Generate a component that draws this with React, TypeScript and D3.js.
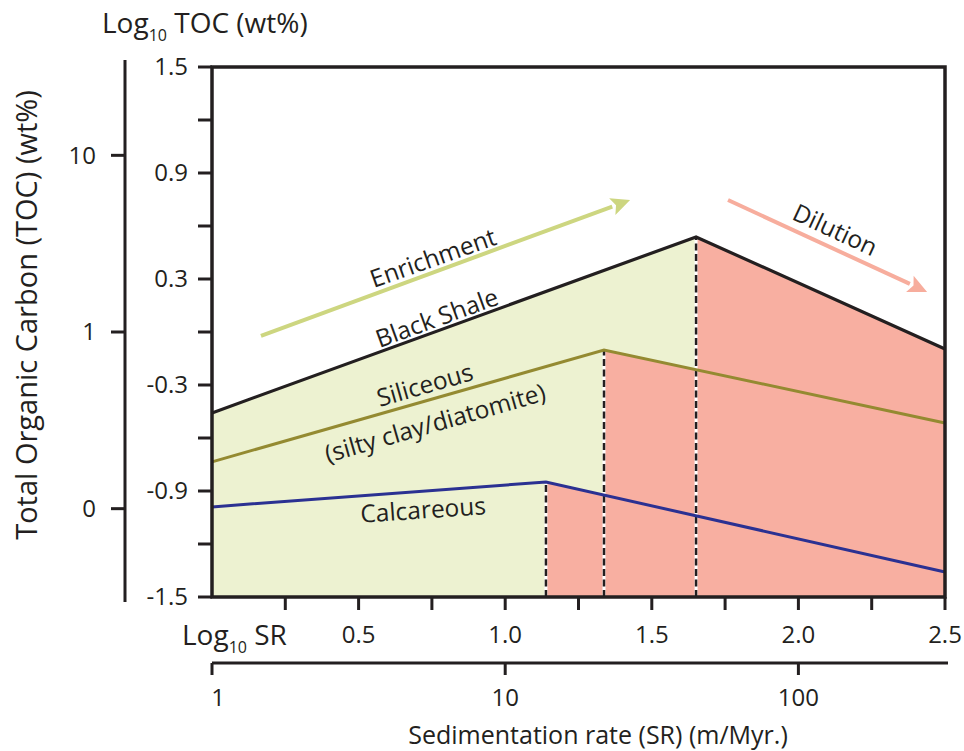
import React, { useEffect, useRef } from "react";
import * as d3 from "d3";

// log10 SR positions and log10 TOC values of each facies line: start, peak, end
const blackShaleSR = [0, 1.651, 2.5];
const blackShaleTOC = [-0.458, 0.538, -0.096];
const siliceousSR = [0, 1.337, 2.5];
const siliceousTOC = [-0.735, -0.102, -0.515];
const calcareousSR = [0, 1.139, 2.5];
const calcareousTOC = [-0.99, -0.849, -1.358];

const leftTicks = [1.5, 1.2, 0.9, 0.6, 0.3, 0, -0.3, -0.6, -0.9, -1.2, -1.5];
const leftLabels = ["1.5", "0.9", "0.3", "-0.3", "-0.9", "-1.5"];
const outerTicks = [1, 0, -1];
const outerLabels = ["10", "1", "0"];
const srTicks = [0.25, 0.5, 0.75, 1.0, 1.25, 1.5, 1.75, 2.0, 2.25, 2.5];
const srLabels = ["0.5", "1.0", "1.5", "2.0", "2.5"];
const rateTicks = [0, 1, 2];
const rateLabels = ["1", "10", "100"];

// arrows: [logSR, logTOC] start and end
const enrichArrow = [[0.167, -0.022], [1.426, 0.747]];
const diluteArrow = [[1.76, 0.747], [2.439, 0.227]];

const annotations = [
  { text: "Enrichment", sr: 0.754, toc: 0.419, angle: -19.5 },
  { text: "Black Shale", sr: 0.767, toc: 0.08, angle: -20 },
  { text: "Siliceous", sr: 0.726, toc: -0.3, angle: -16 },
  { text: "(silty clay/diatomite)", sr: 0.761, toc: -0.515, angle: -16 },
  { text: "Calcareous", sr: 0.72, toc: -1.007, angle: -4 },
  { text: "Dilution", sr: 2.125, toc: 0.578, angle: 25 },
];

const FONT = "'Open Sans', sans-serif";
const INK = "#231f20";

const App = () => {
  const svgRef = useRef<SVGSVGElement>(null);

  useEffect(() => {
    const svg = d3.select(svgRef.current);
    svg.selectAll("*").remove();

    const x = d3.scaleLinear().domain([0, 2.5]).range([212, 945]);
    const y = d3.scaleLinear().domain([-1.5, 1.5]).range([597, 67]);
    const bottom = y(-1.5);

    const toPts = (sr: number[], toc: number[]) => sr.map((s, i) => [s, toc[i]] as [number, number]);
    const lines = [
      { pts: toPts(blackShaleSR, blackShaleTOC), color: INK },
      { pts: toPts(siliceousSR, siliceousTOC), color: "#948a31" },
      { pts: toPts(calcareousSR, calcareousTOC), color: "#2b3192" },
    ];

    const area = d3
      .area<[number, number]>()
      .x((d) => x(d[0]))
      .y0(bottom)
      .y1((d) => y(d[1]));
    const line = d3
      .line<[number, number]>()
      .x((d) => x(d[0]))
      .y((d) => y(d[1]));

    // green enrichment zone under the black shale line
    svg.append("path").attr("d", area(lines[0].pts)).attr("fill", "#edf2d1");

    // salmon dilution zone right of each peak
    lines.forEach((l) => {
      svg.append("path").attr("d", area(l.pts.slice(1))).attr("fill", "#f8afa1");
    });

    // dashed peak markers
    lines.forEach((l) => {
      const p = l.pts[1];
      svg.append("line")
        .attr("x1", x(p[0])).attr("x2", x(p[0]))
        .attr("y1", bottom).attr("y2", y(p[1]))
        .attr("stroke", "#fff").attr("stroke-width", 3);
      svg.append("line")
        .attr("x1", x(p[0])).attr("x2", x(p[0]))
        .attr("y1", bottom).attr("y2", y(p[1]))
        .attr("stroke", INK).attr("stroke-width", 2.5)
        .attr("stroke-dasharray", "7,3.5");
    });

    // facies lines
    lines.forEach((l) => {
      svg.append("path").attr("d", line(l.pts)).attr("fill", "none")
        .attr("stroke", l.color).attr("stroke-width", l.color === INK ? 3.2 : 3);
    });

    // arrows
    const drawArrow = (a: number[][], color: string) => {
      const x1 = x(a[0][0]), y1 = y(a[0][1]), x2 = x(a[1][0]), y2 = y(a[1][1]);
      const ang = Math.atan2(y2 - y1, x2 - x1);
      const len = 19, half = 9;
      const bx = x2 - len * Math.cos(ang), by = y2 - len * Math.sin(ang);
      svg.append("line").attr("x1", x1).attr("y1", y1).attr("x2", bx).attr("y2", by)
        .attr("stroke", color).attr("stroke-width", 4);
      const px = -Math.sin(ang) * half, py = Math.cos(ang) * half;
      svg.append("path")
        .attr("d", `M${x2},${y2}L${bx + px},${by + py}L${bx + 4 * Math.cos(ang)},${by + 4 * Math.sin(ang)}L${bx - px},${by - py}Z`)
        .attr("fill", color);
    };
    drawArrow(enrichArrow, "#cdd680");
    drawArrow(diluteArrow, "#f7ad9d");

    // annotations
    annotations.forEach((a) => {
      svg.append("text")
        .attr("transform", `translate(${x(a.sr)},${y(a.toc)}) rotate(${a.angle})`)
        .attr("text-anchor", "middle").attr("dy", "0.35em")
        .attr("font-family", FONT).attr("font-size", 24.5).attr("fill", INK)
        .text(a.text);
    });

    // frame
    svg.append("rect").attr("x", x(0)).attr("y", y(1.5))
      .attr("width", x(2.5) - x(0)).attr("height", bottom - y(1.5))
      .attr("fill", "none").attr("stroke", INK).attr("stroke-width", 3.5);

    // inner log TOC axis
    const left = svg.append("g");
    leftTicks.forEach((t) => {
      left.append("line").attr("x1", x(0) - 14).attr("x2", x(0)).attr("y1", y(t)).attr("y2", y(t))
        .attr("stroke", INK).attr("stroke-width", 3);
    });
    leftLabels.forEach((l) => {
      left.append("text").attr("x", 188).attr("y", y(+l)).attr("dy", "0.35em")
        .attr("text-anchor", "end").attr("font-family", FONT).attr("font-size", 24).attr("fill", INK).text(l);
    });

    // outer TOC axis
    svg.append("line").attr("x1", 125).attr("x2", 125).attr("y1", 60).attr("y2", 602)
      .attr("stroke", INK).attr("stroke-width", 3);
    outerTicks.forEach((t, i) => {
      svg.append("line").attr("x1", 111).attr("x2", 125).attr("y1", y(t)).attr("y2", y(t))
        .attr("stroke", INK).attr("stroke-width", 3);
      svg.append("text").attr("x", 96).attr("y", y(t)).attr("dy", "0.35em").attr("text-anchor", "end")
        .attr("font-family", FONT).attr("font-size", 24).attr("fill", INK).text(outerLabels[i]);
    });

    // inner log SR axis
    srTicks.forEach((t) => {
      svg.append("line").attr("x1", x(t)).attr("x2", x(t)).attr("y1", bottom).attr("y2", bottom + 13)
        .attr("stroke", INK).attr("stroke-width", 3);
    });
    srLabels.forEach((l) => {
      svg.append("text").attr("x", x(+l)).attr("y", 643).attr("text-anchor", "middle")
        .attr("font-family", FONT).attr("font-size", 24).attr("fill", INK).text(l);
    });

    // outer sedimentation rate axis
    svg.append("line").attr("x1", x(0)).attr("x2", 948).attr("y1", 663).attr("y2", 663)
      .attr("stroke", INK).attr("stroke-width", 3);
    rateTicks.forEach((t, i) => {
      svg.append("line").attr("x1", x(t)).attr("x2", x(t)).attr("y1", 663).attr("y2", 675)
        .attr("stroke", INK).attr("stroke-width", 3);
      svg.append("text").attr("x", x(t) + (i === 0 ? 6 : 0)).attr("y", 706).attr("text-anchor", "middle")
        .attr("font-family", FONT).attr("font-size", 24).attr("fill", INK).text(rateLabels[i]);
    });

    // titles
    const logTitle = (tx: number, ty: number, rest: string) => {
      const t = svg.append("text").attr("x", tx).attr("y", ty)
        .attr("font-family", FONT).attr("font-size", 28).attr("fill", INK);
      t.append("tspan").text("Log");
      t.append("tspan").attr("font-size", 16).attr("dy", 8).text("10");
      t.append("tspan").attr("dy", -8).text(rest);
    };
    logTitle(102, 33, " TOC (wt%)");
    logTitle(182, 645, " SR");

    svg.append("text").attr("x", 598).attr("y", 744).attr("text-anchor", "middle")
      .attr("font-family", FONT).attr("font-size", 25).attr("fill", INK)
      .text("Sedimentation rate (SR) (m/Myr.)");

    svg.append("text").attr("transform", "translate(37,315) rotate(-90)").attr("text-anchor", "middle")
      .attr("font-family", FONT).attr("font-size", 29).attr("fill", INK)
      .text("Total Organic Carbon (TOC) (wt%)");
  }, []);

  return (
    <svg ref={svgRef} width={964} height={751}
      style={{ position: "absolute", left: 0, top: 0, background: "#fff" }} />
  );
};

export default App;
